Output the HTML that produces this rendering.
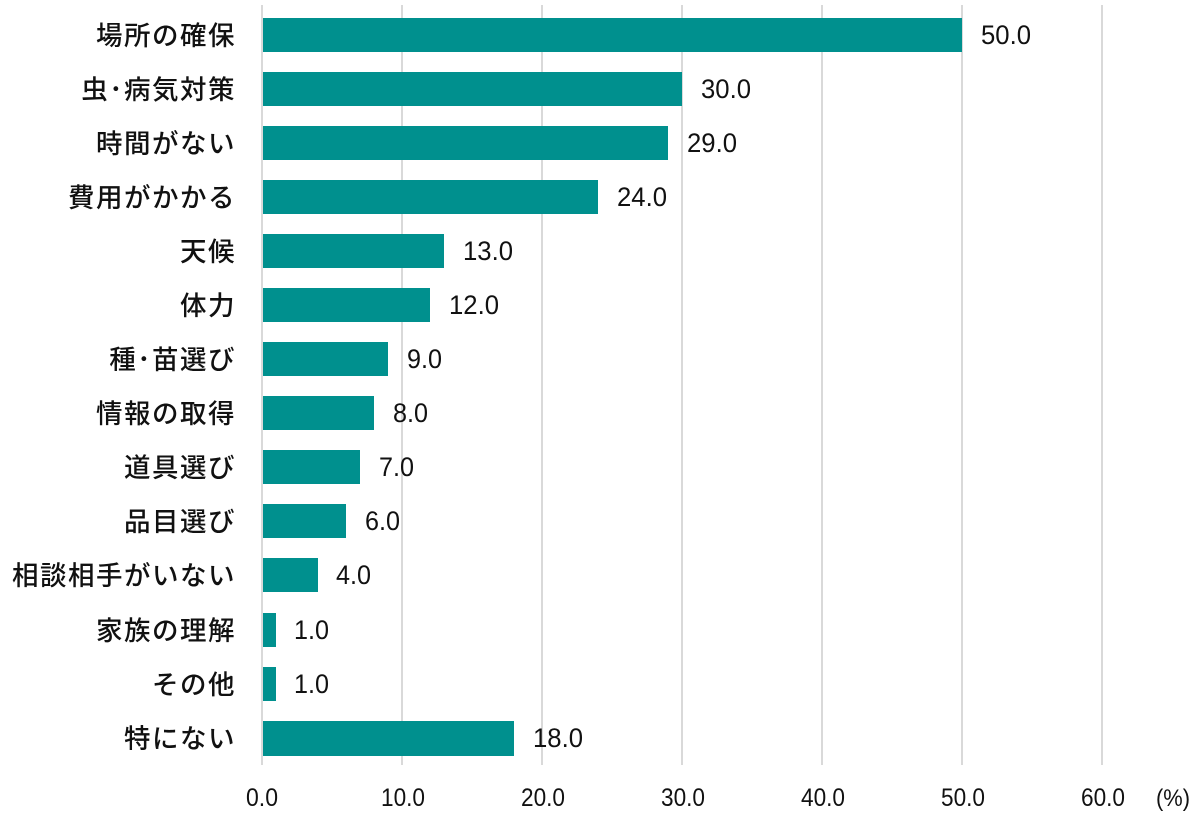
<!DOCTYPE html>
<html><head><meta charset="utf-8"><style>
html,body{margin:0;padding:0;background:#fff;}
text{font-family:"Liberation Sans","Noto Sans CJK JP",sans-serif;fill:#111;}
.cat text{font-family:"Noto Sans CJK JP","Liberation Sans",sans-serif;font-weight:500;letter-spacing:1.5px;}
</style></head><body>
<svg width="1200" height="814" xmlns="http://www.w3.org/2000/svg">
<g stroke="#d9d9d9" stroke-width="2">
<line x1="262" y1="5" x2="262" y2="765"/><line x1="402" y1="5" x2="402" y2="765"/><line x1="542" y1="5" x2="542" y2="765"/><line x1="682" y1="5" x2="682" y2="765"/><line x1="822" y1="5" x2="822" y2="765"/><line x1="962" y1="5" x2="962" y2="765"/><line x1="1102" y1="5" x2="1102" y2="765"/>
</g>
<g fill="#00908e">
<rect x="263" y="18" width="699" height="34"/>
<rect x="263" y="72" width="419" height="34"/>
<rect x="263" y="126" width="405" height="34"/>
<rect x="263" y="180" width="335" height="34"/>
<rect x="263" y="234" width="181" height="34"/>
<rect x="263" y="288" width="167" height="34"/>
<rect x="263" y="342" width="125" height="34"/>
<rect x="263" y="396" width="111" height="34"/>
<rect x="263" y="450" width="97" height="34"/>
<rect x="263" y="504" width="83" height="34"/>
<rect x="263" y="558" width="55" height="34"/>
<rect x="263" y="613" width="13" height="34"/>
<rect x="263" y="667" width="13" height="34"/>
<rect x="263" y="721" width="251" height="35"/>
</g>
<g class="cat" font-size="26.5" text-anchor="end">
<text x="236" y="45">場所の確保</text>
<text x="236" y="99">虫･病気対策</text>
<text x="236" y="153">時間がない</text>
<text x="236" y="207">費用がかかる</text>
<text x="236" y="261">天候</text>
<text x="236" y="315">体力</text>
<text x="236" y="369">種･苗選び</text>
<text x="236" y="423">情報の取得</text>
<text x="236" y="477">道具選び</text>
<text x="236" y="531">品目選び</text>
<text x="236" y="585">相談相手がいない</text>
<text x="236" y="640">家族の理解</text>
<text x="236" y="694">その他</text>
<text x="236" y="748">特にない</text>
</g>
<g font-size="27">
<text x="981" y="44" textLength="50" lengthAdjust="spacingAndGlyphs">50.0</text>
<text x="701" y="98" textLength="50" lengthAdjust="spacingAndGlyphs">30.0</text>
<text x="687" y="152" textLength="50" lengthAdjust="spacingAndGlyphs">29.0</text>
<text x="617" y="206" textLength="50" lengthAdjust="spacingAndGlyphs">24.0</text>
<text x="463" y="260" textLength="50" lengthAdjust="spacingAndGlyphs">13.0</text>
<text x="449" y="314" textLength="50" lengthAdjust="spacingAndGlyphs">12.0</text>
<text x="407" y="368" textLength="35" lengthAdjust="spacingAndGlyphs">9.0</text>
<text x="393" y="422" textLength="35" lengthAdjust="spacingAndGlyphs">8.0</text>
<text x="379" y="476" textLength="35" lengthAdjust="spacingAndGlyphs">7.0</text>
<text x="365" y="530" textLength="35" lengthAdjust="spacingAndGlyphs">6.0</text>
<text x="336" y="584" textLength="35" lengthAdjust="spacingAndGlyphs">4.0</text>
<text x="294" y="639" textLength="35" lengthAdjust="spacingAndGlyphs">1.0</text>
<text x="294" y="693" textLength="35" lengthAdjust="spacingAndGlyphs">1.0</text>
<text x="533" y="747" textLength="50" lengthAdjust="spacingAndGlyphs">18.0</text>
</g>
<g font-size="25">
<text x="246" y="806" textLength="32" lengthAdjust="spacingAndGlyphs">0.0</text>
<text x="381" y="806" textLength="44" lengthAdjust="spacingAndGlyphs">10.0</text>
<text x="521" y="806" textLength="44" lengthAdjust="spacingAndGlyphs">20.0</text>
<text x="661" y="806" textLength="44" lengthAdjust="spacingAndGlyphs">30.0</text>
<text x="801" y="806" textLength="44" lengthAdjust="spacingAndGlyphs">40.0</text>
<text x="941" y="806" textLength="44" lengthAdjust="spacingAndGlyphs">50.0</text>
<text x="1081" y="806" textLength="44" lengthAdjust="spacingAndGlyphs">60.0</text>
<text x="1156" y="806" font-size="24" textLength="34" lengthAdjust="spacingAndGlyphs">(%)</text>
</g>
</svg>
</body></html>
